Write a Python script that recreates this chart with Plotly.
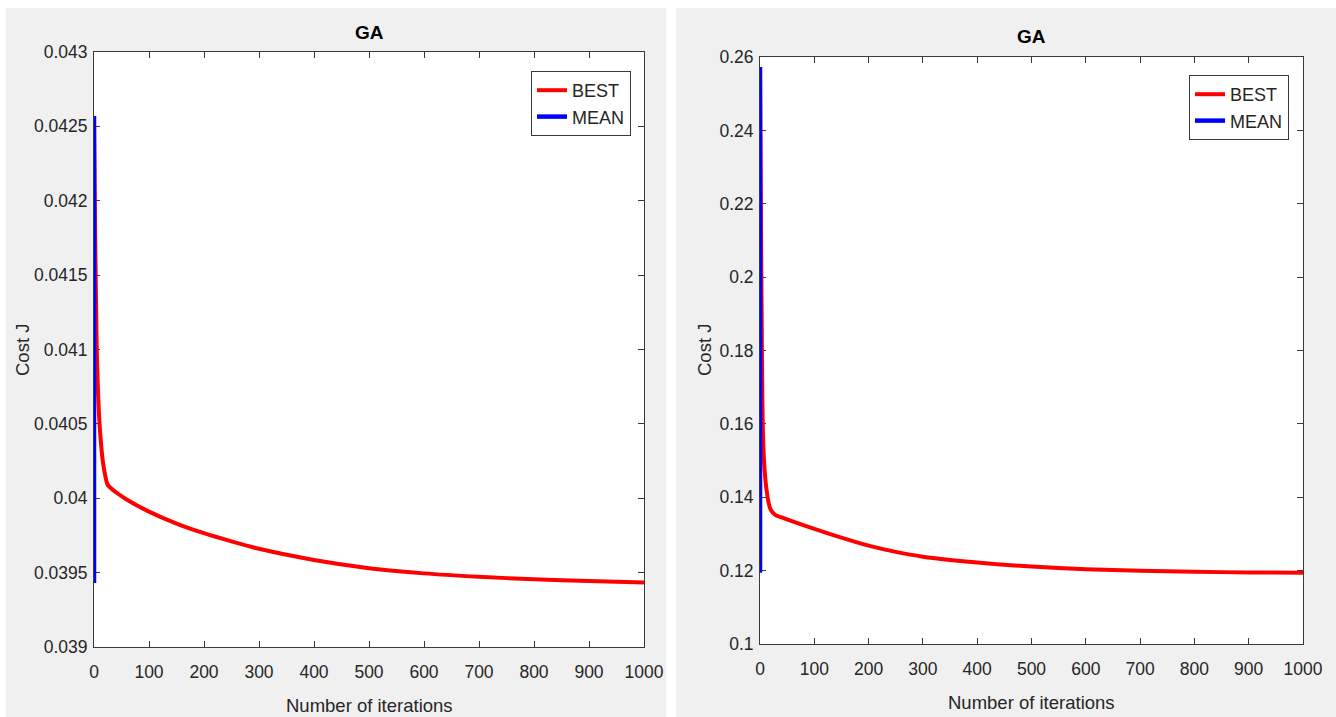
import plotly.graph_objects as go

# ---------------- data ----------------
iters_left = [0, 1, 2, 3, 4, 5, 7, 9, 12, 16, 20, 25, 40, 60, 100, 150, 200, 250,
              300, 400, 500, 600, 700, 800, 900, 1000]
best_left = [0.04255, 0.0422, 0.0418, 0.0415, 0.04125, 0.0410, 0.04075, 0.04057,
             0.0404, 0.04025, 0.04016, 0.04009, 0.04004, 0.03999, 0.03991, 0.03983,
             0.039765, 0.03971, 0.03966, 0.039585, 0.03953, 0.039495, 0.039472,
             0.039455, 0.039443, 0.039434]
mean_left_x = [0, 0]
mean_left_y = [0.03943, 0.04257]

iters_right = [0, 1, 2, 3, 4, 5, 7, 10, 13, 16, 20, 28, 40, 60, 100, 150, 200,
               250, 300, 400, 500, 600, 700, 800, 900, 1000]
best_right = [0.2565, 0.235, 0.21, 0.19, 0.172, 0.16, 0.151, 0.1447, 0.141, 0.1384,
              0.1365, 0.1352, 0.1345, 0.1334, 0.1314, 0.1290, 0.1268, 0.1251,
              0.1238, 0.1222, 0.1211, 0.1204, 0.1200, 0.1197, 0.1195, 0.1194]
mean_right_x = [0, 0]
mean_right_y = [0.1194, 0.2573]

x_ticks = [0, 100, 200, 300, 400, 500, 600, 700, 800, 900, 1000]
y_ticks_left = [0.039, 0.0395, 0.04, 0.0405, 0.041, 0.0415, 0.042, 0.0425, 0.043]
y_ticktext_left = ["0.039", "0.0395", "0.04", "0.0405", "0.041", "0.0415", "0.042",
                   "0.0425", "0.043"]
y_ticks_right = [0.1, 0.12, 0.14, 0.16, 0.18, 0.2, 0.22, 0.24, 0.26]
y_ticktext_right = ["0.1", "0.12", "0.14", "0.16", "0.18", "0.2", "0.22", "0.24", "0.26"]

titles = ["GA", "GA"]
x_title = "Number of iterations"
y_title = "Cost J"

# ---------------- layout geometry (pixels) ----------------
W, H = 1336, 717
FONT = "Liberation Sans, Arial, sans-serif"
TXT = "#262626"
AX = "#3a3a3a"

def px_x(p):
    return p / W

def px_y(p):
    return 1 - p / H

left_dom_x = [px_x(94), px_x(644)]
left_dom_y = [px_y(647), px_y(52)]
right_dom_x = [px_x(760), px_x(1303)]
right_dom_y = [px_y(644), px_y(57)]

fig = go.Figure()

best_line = dict(color="#ff0000", width=4, shape="spline", smoothing=0.7)
mean_line = dict(color="#0000ff", width=4.5)

fig.add_trace(go.Scatter(x=iters_left, y=best_left, mode="lines", name="BEST",
                         line=best_line, xaxis="x", yaxis="y", legend="legend"))
fig.add_trace(go.Scatter(x=mean_left_x, y=mean_left_y, mode="lines", name="MEAN",
                         line=mean_line, xaxis="x", yaxis="y", legend="legend"))
fig.add_trace(go.Scatter(x=iters_right, y=best_right, mode="lines", name="BEST",
                         line=best_line, xaxis="x2", yaxis="y2", legend="legend2"))
fig.add_trace(go.Scatter(x=mean_right_x, y=mean_right_y, mode="lines", name="MEAN",
                         line=mean_line, xaxis="x2", yaxis="y2", legend="legend2"))

axis_common = dict(showline=True, linecolor=AX, linewidth=1, mirror="ticks",
                   ticks="inside", ticklen=6, tickcolor=AX, tickwidth=1,
                   showgrid=False, zeroline=False, layer="below traces",
                   automargin=False,
                   tickfont=dict(family=FONT, size=17.5, color=TXT))

legend_common = dict(bgcolor="white", bordercolor=AX, borderwidth=1,
                     font=dict(family=FONT, size=18, color=TXT),
                     xanchor="right", yanchor="top", tracegroupgap=0,
                     itemwidth=30)

fig.update_layout(
    width=W, height=H,
    margin=dict(l=0, r=0, t=0, b=0, autoexpand=False),
    paper_bgcolor="white", plot_bgcolor="white",
    showlegend=True,
    xaxis=dict(domain=left_dom_x, range=[0, 1000], tickvals=x_ticks, anchor="y",
               ticklabelstandoff=9, **axis_common),
    yaxis=dict(domain=left_dom_y, range=[0.039, 0.043], tickvals=y_ticks_left,
               ticktext=y_ticktext_left, anchor="x", ticklabelstandoff=2, **axis_common),
    xaxis2=dict(domain=right_dom_x, range=[0, 1000], tickvals=x_ticks, anchor="y2",
                ticklabelstandoff=9, **axis_common),
    yaxis2=dict(domain=right_dom_y, range=[0.1, 0.26], tickvals=y_ticks_right,
                ticktext=y_ticktext_right, anchor="x2", ticklabelstandoff=2, **axis_common),
    legend=dict(x=px_x(631), y=px_y(71), **legend_common),
    legend2=dict(x=px_x(1289), y=px_y(75), **legend_common),
    shapes=[
        dict(type="rect", xref="paper", yref="paper", layer="below",
             x0=px_x(6), x1=px_x(666), y0=0, y1=px_y(8),
             fillcolor="#f0f0f0", line=dict(width=0)),
        dict(type="rect", xref="paper", yref="paper", layer="below",
             x0=px_x(676), x1=1, y0=0, y1=px_y(8),
             fillcolor="#f0f0f0", line=dict(width=0)),
        dict(type="rect", xref="paper", yref="paper", layer="below",
             x0=left_dom_x[0], x1=left_dom_x[1], y0=left_dom_y[0], y1=left_dom_y[1],
             fillcolor="white", line=dict(width=0)),
        dict(type="rect", xref="paper", yref="paper", layer="below",
             x0=right_dom_x[0], x1=right_dom_x[1], y0=right_dom_y[0], y1=right_dom_y[1],
             fillcolor="white", line=dict(width=0)),
    ],
    annotations=[
        dict(text="<b>" + titles[0] + "</b>", xref="paper", yref="paper",
             x=px_x(369), y=px_y(33), showarrow=False, xanchor="center", yanchor="middle",
             font=dict(family=FONT, size=19, color="black")),
        dict(text="<b>" + titles[1] + "</b>", xref="paper", yref="paper",
             x=px_x(1031), y=px_y(37), showarrow=False, xanchor="center", yanchor="middle",
             font=dict(family=FONT, size=19, color="black")),
        dict(text=x_title, xref="paper", yref="paper",
             x=px_x(369), y=px_y(705), showarrow=False, xanchor="center", yanchor="middle",
             font=dict(family=FONT, size=18.5, color=TXT)),
        dict(text=x_title, xref="paper", yref="paper",
             x=px_x(1031), y=px_y(702), showarrow=False, xanchor="center", yanchor="middle",
             font=dict(family=FONT, size=18.5, color=TXT)),
        dict(text=y_title, xref="paper", yref="paper", textangle=-90,
             x=px_x(22), y=px_y(350), showarrow=False, xanchor="center", yanchor="middle",
             font=dict(family=FONT, size=18.5, color=TXT)),
        dict(text=y_title, xref="paper", yref="paper", textangle=-90,
             x=px_x(704), y=px_y(350), showarrow=False, xanchor="center", yanchor="middle",
             font=dict(family=FONT, size=18.5, color=TXT)),
    ],
)

fig.write_html("out.html")
